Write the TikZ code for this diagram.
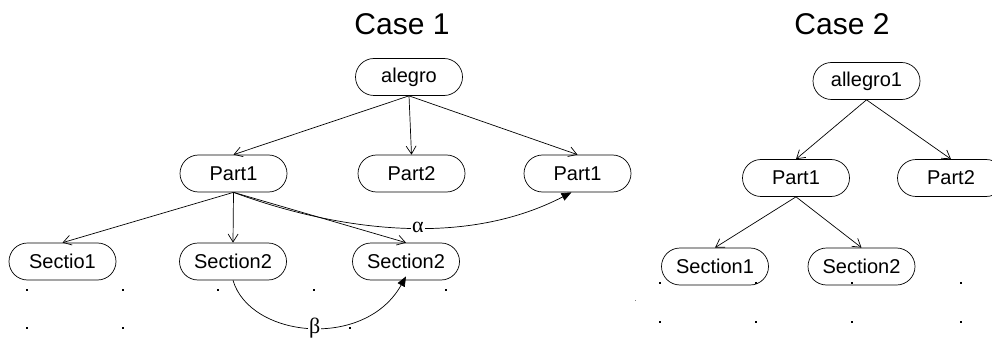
\documentclass[tikz,border=0pt]{standalone}
\usepackage{fontspec}
\setmainfont{Liberation Sans}
\newfontfamily\greekserif{Liberation Serif}
\usetikzlibrary{arrows.meta,shapes.misc}
\begin{document}
\begin{tikzpicture}[x=1pt,y=-1pt,
  box/.style={draw, line width=0.7pt, rounded rectangle, minimum width=107pt,
    minimum height=37pt, inner sep=0pt, font=\fontsize{20}{24}\selectfont},
  tree/.style={draw, line width=0.7pt, -{Straight Barb[length=8pt,width=10pt]}},
  link/.style={draw, line width=0.7pt, -{Triangle[length=10pt,width=8pt]}},
  title/.style={font=\fontsize{30}{36}\selectfont, anchor=base},
  greek/.style={fill=white, inner sep=1pt, font=\greekserif\fontsize{22}{24}\selectfont},
  dotmark/.style={fill=black}]
\useasboundingbox (0,0) rectangle (992,339);
% titles
\node[title] (t1) at (402,35) {Case 1};
\node[title] (t2) at (842,35) {Case 2};
% case 1 nodes
\node[box] (alegro) at (409,77) {alegro};
\node[box] (p1a) at (233.5,173.5) {Part1};
\node[box] (p2a) at (411.5,173.5) {Part2};
\node[box] (p1b) at (577.5,173.5) {Part1};
\node[box] (s1a) at (62.5,261.5) {Sectio1};
\node[box] (s2a) at (233,261.5) {Section2};
\node[box] (s2b) at (406,261.5) {Section2};
% case 2 nodes
\node[box] (allegro) at (866.5,81) {allegro1};
\node[box] (p1c) at (796,178) {Part1};
\node[box] (p2c) at (951,178) {Part2};
\node[box] (s1c) at (715,266.5) {Section1};
\node[box] (s2c) at (861.5,266.5) {Section2};
% case 1 edges
\draw[tree] (alegro.south) -- (p1a.north);
\draw[tree] (alegro.south) -- (p2a.north);
\draw[tree] (alegro.south) -- (p1b.north);
\draw[tree] (p1a.south) -- (s1a.north);
\draw[tree] (p1a.south) -- (s2a.north);
\draw[tree] (p1a.south) -- (s2b.north);
\coordinate (aend) at ([xshift=-6pt]p1b.south);
\draw[link] (p1a.south) .. controls (330,228) and (460,250) .. (aend)
  node[greek, pos=0.56] (alpha) {α};
\coordinate (bend) at ([yshift=4pt]s2b.south);
\draw[link] (s2a.south) .. controls (250,338) and (365,350) .. (bend)
  node[greek, pos=0.52] (beta) {β};
% case 2 edges
\draw[tree] (allegro.south) -- (p1c.north);
\draw[tree] (allegro.south) -- (p2c.north);
\draw[tree] (p1c.south) -- (s1c.north);
\draw[tree] (p1c.south) -- (s2c.north);
% dots
\foreach \x in {27,123,218,314,446} \fill[dotmark] (\x-1.2,289) rectangle (\x+1.2,291.4);
\foreach \x in {27,123,350} \fill[dotmark] (\x-1.2,327) rectangle (\x+1.2,329.4);
\foreach \x in {660,756,852,961} \fill[dotmark] (\x-1.2,282) rectangle (\x+1.2,284.4);
\foreach \x in {660,756,852,961} \fill[dotmark] (\x-1.2,321) rectangle (\x+1.2,323.4);
\fill[gray] (634.5,299.5) rectangle (635.5,300.5);
\end{tikzpicture}
\end{document}
